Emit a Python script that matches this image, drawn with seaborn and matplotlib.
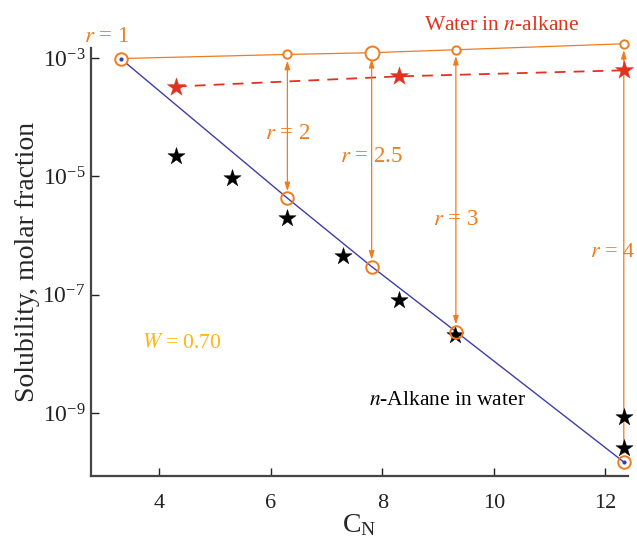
import numpy as np
import pandas as pd
import matplotlib
matplotlib.use("Agg")
import matplotlib.pyplot as plt
from matplotlib.ticker import FixedLocator, NullLocator, LogFormatterSciNotation
import seaborn as sns

# ---- data ----
cn_top = [3.31, 6.30, 7.81, 9.32, 12.33]
sol_top = [9.8e-4, 1.15e-3, 1.23e-3, 1.38e-3, 1.74e-3]
top_sizes = [9, 6, 10, 6, 6]

cn_bottom = [3.31, 6.30, 7.81, 9.32, 12.33]
sol_bottom = [9.8e-4, 4.3e-6, 3.0e-7, 2.4e-8, 1.5e-10]

cn_exp_water = [4.3, 5.3, 6.3, 7.3, 8.3, 9.3, 12.33, 12.33]
sol_exp_water = [2.2e-5, 9.5e-6, 1.95e-6, 4.5e-7, 8.3e-8, 2.1e-8, 8.7e-10, 2.6e-10]

cn_exp_alkane = [4.3, 8.3, 12.33]
sol_exp_alkane = [3.3e-4, 4.9e-4, 6.2e-4]

arrow_cn = [6.30, 7.81, 9.32, 12.33]
arrow_top = [1.15e-3, 1.23e-3, 1.38e-3, 1.74e-3]
arrow_bottom = [4.3e-6, 3.0e-7, 2.4e-8, 1.5e-10]
r_labels = ["$r$ = 2", "$r$ = 2.5", "$r$ = 3", "$r$ = 4"]
r_label_y = [5.4e-5, 2.15e-5, 1.85e-6, 5.1e-7]

yticks = [1e-3, 1e-5, 1e-7, 1e-9]
xticks = [4, 6, 8, 10, 12]

ORANGE = "#F07C1E"
RED = "#E2321F"
BLUE = "#3D3DAA"
GOLD = "#FFB414"

sns.set_style("ticks")
plt.rcParams["font.family"] = ["Liberation Serif", "DejaVu Serif"]
plt.rcParams["mathtext.fontset"] = "stix"

fig = plt.figure(figsize=(6.37, 5.42), dpi=100)
ax = fig.add_axes([0.1429, 0.1218, 0.8425, 0.7897])
ax.set_yscale("log")

# top (water in alkane, model) line
sns.lineplot(x=cn_top, y=sol_top, ax=ax, color=ORANGE, lw=0.9, estimator=None, sort=False,
             clip_on=False)
# red dashed experimental water in alkane
sns.lineplot(x=cn_exp_alkane, y=sol_exp_alkane, ax=ax, color=RED, lw=1.3,
             linestyle=(0, (6, 4.5)), estimator=None, sort=False)
# blue model line alkane in water
sns.lineplot(x=cn_bottom, y=sol_bottom, ax=ax, color=BLUE, lw=1.0, estimator=None, sort=False)
ax.plot([cn_bottom[0], cn_bottom[-1]], [sol_bottom[0], sol_bottom[-1]], ls="none",
        marker="o", ms=2, color=BLUE, zorder=6)

# arrows
for x, yt, yb in zip(arrow_cn, arrow_top, arrow_bottom):
    ax.annotate("", xy=(x, yb), xytext=(x, yt),
                arrowprops=dict(arrowstyle="<|-|>,head_length=0.5,head_width=0.16",
                                color=ORANGE, lw=0.9, shrinkA=4.5, shrinkB=5),
                zorder=3, annotation_clip=False)

# stars
sns.scatterplot(x=cn_exp_water, y=sol_exp_water, ax=ax, marker="*", s=170,
                color="black", edgecolor="black", linewidth=0.3, zorder=4, clip_on=False)
sns.scatterplot(x=cn_exp_alkane, y=sol_exp_alkane, ax=ax, marker="*", s=190,
                color=RED, edgecolor=RED, linewidth=0.3, zorder=4, clip_on=False)

# circles
for x, y, ms in zip(cn_top, sol_top, top_sizes):
    ax.plot([x], [y], ls="none", marker="o", ms=ms, mfc="white", mec=ORANGE, mew=1.4,
            zorder=5, clip_on=False)
for x, y in zip(cn_bottom[1:], sol_bottom[1:]):
    ax.plot([x], [y], ls="none", marker="o", ms=9, mfc="none", mec=ORANGE, mew=1.4,
            zorder=5, clip_on=False)

# texts
fs = 15.5
rfs = 16.5
ax.text(3.05, 2.35e-3, "$r$ = 1", color=ORANGE, fontsize=rfs, ha="center", va="center")
for x, y, lab in zip(arrow_cn, r_label_y, r_labels):
    if lab.endswith("4"):
        ax.text(11.72, y, lab, color=ORANGE, fontsize=16, ha="left", va="center", clip_on=False)
    else:
        ax.text(x, y, lab, color=ORANGE, fontsize=rfs, ha="center", va="center")
ax.text(10.14, 3.6e-3, "Water in $n$-alkane", color=RED, fontsize=fs, ha="center", va="center")
ax.text(9.17, 1.66e-9, "$n$-Alkane in water", color="black", fontsize=fs, ha="center", va="center")
ax.text(4.41, 1.48e-8, "$W$ = 0.70", color=GOLD, fontsize=fs, ha="center", va="center")

ax.set_xlim(2.78, 12.40)
ax.set_ylim(10 ** -10.06, 10 ** -2.83)
ax.xaxis.set_major_locator(FixedLocator(xticks))
ax.yaxis.set_major_locator(FixedLocator(yticks))
ax.yaxis.set_major_formatter(LogFormatterSciNotation())
ax.yaxis.set_minor_locator(NullLocator())
ax.xaxis.set_minor_locator(NullLocator())
ax.tick_params(direction="in", length=6, width=1.0, labelsize=16, colors="#222222")
ax.tick_params(axis="x", pad=13)
ax.tick_params(axis="y", pad=4, labelsize=17)

for side in ["top", "right"]:
    ax.spines[side].set_visible(False)
for side in ["left", "bottom"]:
    ax.spines[side].set_linewidth(1.6)
    ax.spines[side].set_color("#444444")

ax.set_xlabel("C$_\\mathregular{N}$", fontsize=20, labelpad=0)
ax.set_ylabel("Solubility, molar fraction", fontsize=20, labelpad=2)

fig.savefig("out.png", dpi=100)
